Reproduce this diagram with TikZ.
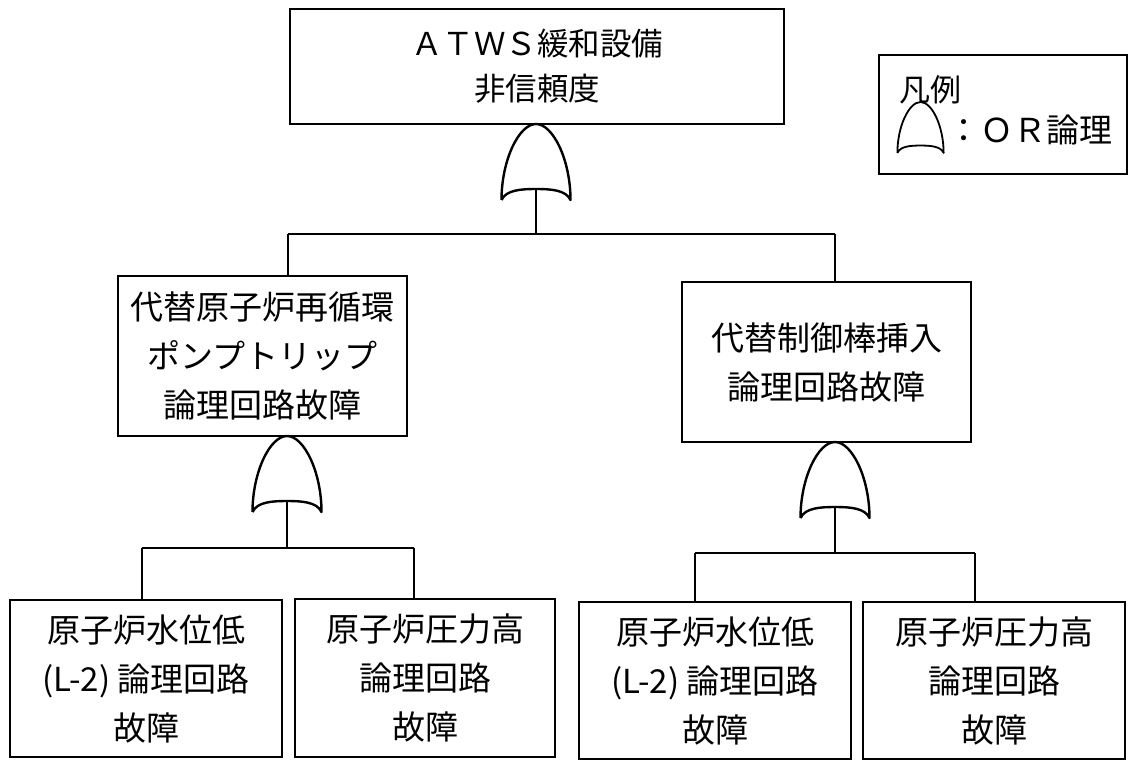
\documentclass[tikz,border=0pt]{standalone}
\usepackage{fontspec}
\setmainfont{Noto Sans CJK JP}
\tikzset{
  box/.style={draw, line width=1.3pt, align=center, inner sep=0pt, font=\fontsize{33}{49}\selectfont},
  wire/.style={line width=1.6pt},
  gateline/.style={line width=2.4pt, line join=round},
  orgate/.pic={
    \draw[gateline] (-34.5,76) .. controls (-34.5,36) and (-17,0) .. (0,0)
      .. controls (17,0) and (34.5,36) .. (34.5,76)
      .. controls (30,66) and (15,65) .. (0,65)
      .. controls (-15,65) and (-30,66) .. (-34.5,76);
    \coordinate (-apex) at (0,0);
    \coordinate (-out) at (0,65);
  }
}
\begin{document}
\begin{tikzpicture}[x=1pt,y=-1pt]
\useasboundingbox (0,0) rectangle (1134,760);
% boxes
\node[box, minimum width=494pt, minimum height=115pt, font=\fontsize{31.5}{45}\selectfont] (top) at (537,66.5) {ＡＴＷＳ緩和設備\\非信頼度};
\node[box, minimum width=289pt, minimum height=160pt] (lm) at (262.5,356) {代替原子炉再循環\\ポンプトリップ\\論理回路故障};
\node[box, minimum width=289pt, minimum height=160pt] (rm) at (826.5,362) {代替制御棒挿入\\論理回路故障};
\node[box, minimum width=272pt, minimum height=157pt] (ba) at (146,678.5) {原子炉水位低\\(L-2) 論理回路\\故障};
\node[box, minimum width=260pt, minimum height=158pt] (bb) at (425,678) {原子炉圧力高\\論理回路\\故障};
\node[box, minimum width=272pt, minimum height=157pt] (bc) at (715,680.5) {原子炉水位低\\(L-2) 論理回路\\故障};
\node[box, minimum width=262pt, minimum height=157pt] (bd) at (994,680.5) {原子炉圧力高\\論理回路\\故障};
% gates
\pic (g1) at (536,124) {orgate};
\pic (g2) at (287,436) {orgate};
\pic (g3) at (835,442) {orgate};
% connectors level 1
\coordinate (b1m) at (536,234);
\coordinate (b1l) at (288,234);
\coordinate (b1r) at (835,234);
\draw[wire] (g1-out) -- (b1m);
\draw[wire] (b1l) -- (b1r);
\draw[wire] (b1l) -- (b1l |- lm.north);
\draw[wire] (b1r) -- (b1r |- rm.north);
% connectors level 2 left
\coordinate (b2m) at (287,548);
\coordinate (b2l) at (142,548);
\coordinate (b2r) at (414,548);
\draw[wire] (g2-out) -- (b2m);
\draw[wire] (b2l) -- (b2r);
\draw[wire] (b2l) -- (b2l |- ba.north);
\draw[wire] (b2r) -- (b2r |- bb.north);
% connectors level 2 right
\coordinate (b3m) at (835,553);
\coordinate (b3l) at (695,553);
\coordinate (b3r) at (975,553);
\draw[wire] (g3-out) -- (b3m);
\draw[wire] (b3l) -- (b3r);
\draw[wire] (b3l) -- (b3l |- bc.north);
\draw[wire] (b3r) -- (b3r |- bd.north);
% legend
\node[draw, line width=1.3pt, minimum width=248pt, minimum height=119pt, inner sep=0pt] (leg) at (1003,114.5) {};
\node[font=\fontsize{31}{31}\selectfont, inner sep=0pt] (legt) at (930,90) {凡例};
\pic[scale=0.67, gateline/.style={line width=1.8pt, line join=round}] (lg) at (920.5,102) {orgate};
\node[font=\fontsize{33}{33}\selectfont, inner sep=0pt] (legor) at (1029.5,130) {：ＯＲ論理};
\end{tikzpicture}
\end{document}
